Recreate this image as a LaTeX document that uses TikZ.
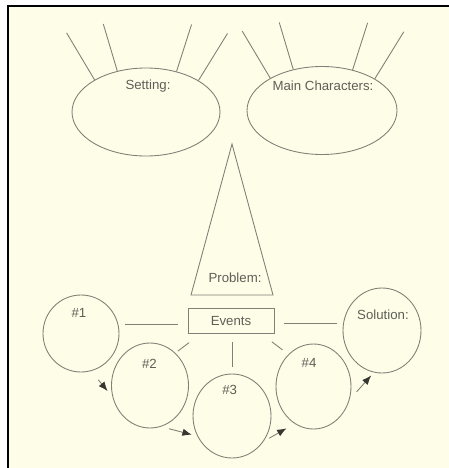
\documentclass[tikz,border=0pt]{standalone}
\usepackage{fontspec}
\setmainfont{Liberation Sans}
\usetikzlibrary{shapes.geometric,arrows.meta}
\definecolor{paper}{RGB}{254,253,232}
\definecolor{ink}{RGB}{128,128,118}
\definecolor{lettering}{RGB}{95,95,88}
\definecolor{headcol}{RGB}{55,55,50}
\tikzset{
  pen/.style={draw=ink,line width=0.75pt},
  bubble/.style={ellipse,pen,inner sep=0pt},
  word/.style={text=lettering,font=\fontsize{11.3}{13}\selectfont,inner sep=1pt},
  flow/.style={pen,-{Latex[length=2.8mm,width=2.2mm,color=headcol]}},
}
\begin{document}
\begin{tikzpicture}[x=0.3mm,y=-0.3mm]
\useasboundingbox (0,0) rectangle (449,468);
\fill[white] (0,0) rectangle (449,468);
\fill[paper] (8,6) rectangle (449,468);
\draw[line width=0.6mm] (8,468) -- (8,6) -- (449,6);
% setting and characters
\node[bubble,minimum width=44.4mm,minimum height=26.4mm] (setting) at (146,112) {};
\node[bubble,minimum width=45mm,minimum height=26.4mm] (chars) at (322,110.5) {};
\node[word] (settext) at (148,86.5) {Setting:};
\node[word] (chartext) at (323,86) {Main Characters:};
\foreach \a/\dx in {148/-28,125/-14,53/15,31/29}{
  \draw[pen] (setting.\a) -- ++(\dx,-47);
  \draw[pen] (chars.\a) -- ++(\dx,-47);
}
% problem
\draw[pen] (232,144) -- (273,295) -- (191,295) -- cycle;
\node[word] (probtext) at (235,278) {Problem:};
% events
\node[word,pen,minimum width=25.8mm,minimum height=7.5mm] (events) at (231,321) {Events};
\node[bubble,minimum width=22.8mm,minimum height=23.1mm] (n1) at (81,333.5) {};
\node[bubble,minimum width=23.1mm,minimum height=25.5mm] (n2) at (150,385.5) {};
\node[bubble,minimum width=23.4mm,minimum height=25.2mm] (n3) at (232,416) {};
\node[bubble,minimum width=22.5mm,minimum height=25.5mm] (n4) at (313.5,386.5) {};
\node[bubble,minimum width=23.4mm,minimum height=25.5mm] (sol) at (382,330.5) {};
\node[word] (t1) at (79,312.5) {\#1};
\node[word] (t2) at (149.5,364) {\#2};
\node[word] (t3) at (229.7,390) {\#3};
\node[word] (t4) at (309,363) {\#4};
\node[word] (soltext) at (383,315) {Solution:};
\draw[pen,shorten <=3mm,shorten >=1.8mm] (events.185) -- (events.185 -| n1.east);
\draw[pen,shorten <=3mm,shorten >=1.8mm] (events.-3) -- (events.-3 -| sol.west);
\draw[pen,shorten <=4.3mm,shorten >=0.9mm] (events.-157) -- (n2.52);
\draw[pen,shorten <=3.9mm,shorten >=2.2mm] (events.-23) -- (n4.128);
\draw[pen,shorten <=2.5mm,shorten >=2.1mm] (events.south -| n3.north) -- (n3.north);
\draw[flow,shorten <=3.4mm,shorten >=2.3mm] (n1.-75) -- (n2.197);
\draw[flow,shorten <=2.5mm,shorten >=1.7mm] (n2.-75) -- (n3.210);
\draw[flow,shorten <=2mm,shorten >=2.8mm] (n3.-39) -- (n4.243);
\draw[flow,shorten <=3.1mm,shorten >=1.2mm] (n4.-20) -- (sol.259);
\end{tikzpicture}
\end{document}
